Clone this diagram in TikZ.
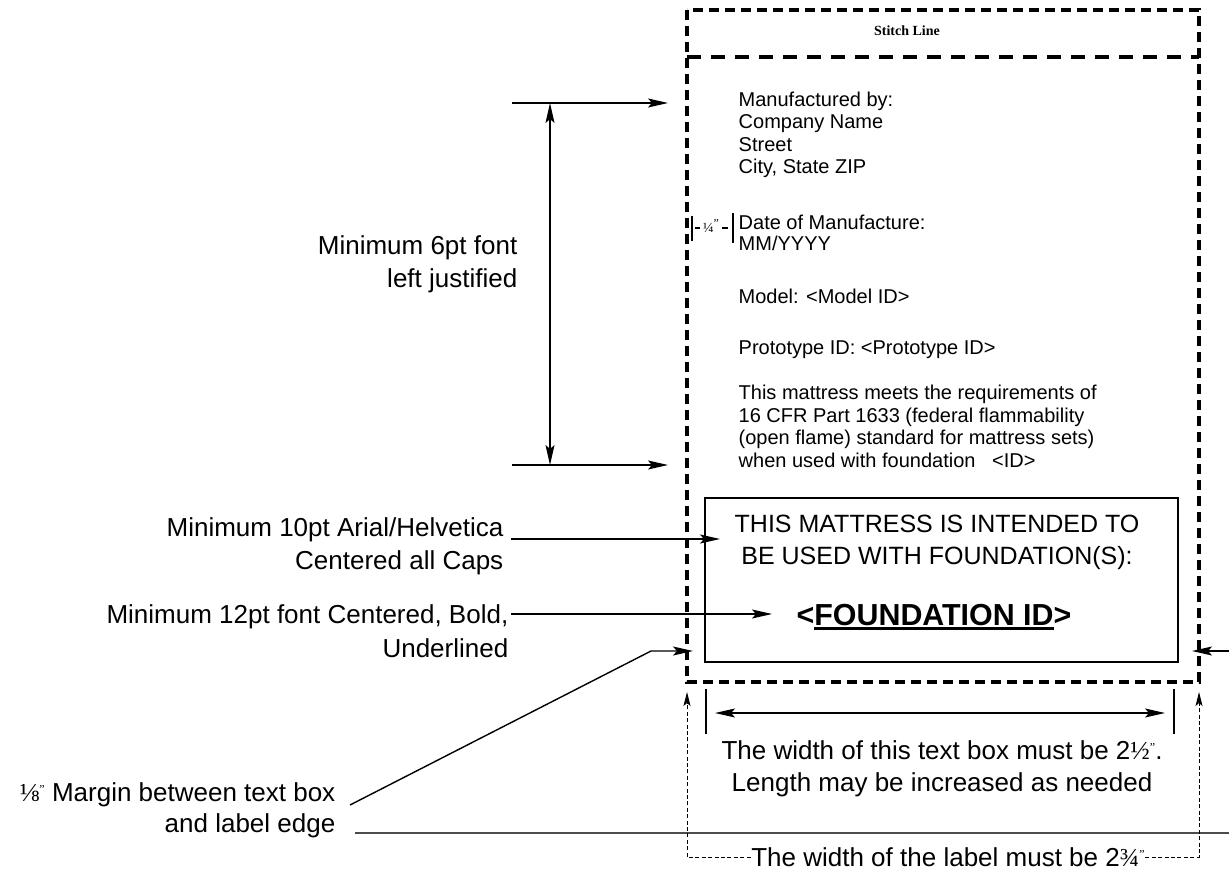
\documentclass[tikz,border=0pt]{standalone}
\usepackage{fontspec}
\setmainfont{Liberation Sans}
\newfontfamily\fracfont{Liberation Serif}
\usetikzlibrary{arrows.meta}
\newcommand{\inch}{{\fracfont\raisebox{0.3em}{\fontsize{6}{6}\selectfont ”}}}
\newcommand{\thickul}[1]{\setbox0=\hbox{#1}\rlap{\rule[-2.6pt]{\wd0}{1.4pt}}\box0}

\tikzset{
  labeledge/.style={line width=2pt,dash pattern=on 5pt off 3pt},
  stitchline/.style={line width=2pt,dash pattern=on 7pt off 5pt},
  pointer/.style={line width=0.7pt,-{Stealth[length=10pt,width=4.5pt,inset=2pt]}},
  guide/.style={line width=0.5pt,dash pattern=on 2pt off 1.2pt,-{Stealth[length=7pt,width=3.5pt,inset=1.5pt]}},
  note/.style={inner sep=0pt,font=\fontsize{13}{16.5}\selectfont,align=right,anchor=base east},
  lbl/.style={inner sep=0pt,font=\fontsize{10}{11.25}\selectfont,align=left,anchor=base west},
}

\begin{document}
\begin{tikzpicture}[x=0.5pt,y=-0.5pt,line width=0.7pt]
\useasboundingbox (0,0) rectangle (1229,871);
% the label and its stitch line
\draw[labeledge] (687,10) rectangle (1199,682);
\draw[stitchline] (687,57) -- (1199,57);
\node[inner sep=0pt,font=\fracfont\bfseries\fontsize{7}{8}\selectfont] (stitch) at (907,31) {Stitch Line};

% text on the label (base = last line)
\node[lbl] (maker) at (738,174) {Manufactured by:\\Company Name\\Street\\City, State ZIP};
\node[lbl,font=\fontsize{10}{10.5}\selectfont] (date) at (738,251) {Date of Manufacture:\\MM/YYYY};
\node[lbl] (model) at (738,303) {Model: <Model ID>};
\node[lbl] (proto) at (738,354) {Prototype ID: <Prototype ID>};
\node[lbl] (meets) at (738,467) {This mattress meets the requirements of\\16 CFR Part 1633 (federal flammability\\(open flame) standard for mattress sets)\\when used with foundation \ \ <ID>};

% the 1/4 inch indent
\draw (692,216) -- (692,241);
\draw (733,213) -- (733,243);
\draw (695,228) -- (700,228);
\draw (722,228) -- (728,228);
\node[inner sep=0pt,font=\fracfont\fontsize{7}{8}\selectfont] (quarter) at (711,226) {¼\inch};

% text box
\node[draw,line width=1pt,minimum width=236.5pt,minimum height=82pt] (tbox) at (941.5,580) {};
\node[inner sep=0pt,font=\fontsize{12.5}{16}\selectfont,align=center,anchor=base] (intend) at (937,564)
  {THIS MATTRESS IS INTENDED TO\\BE USED WITH FOUNDATION(S):};
\node[inner sep=0pt,font=\bfseries\fontsize{15.2}{18}\selectfont,anchor=base] (fid) at (934,625) {<\thickul{FOUNDATION ID}>};

% notes on the left
\node[note] (n6) at (518,287) {Minimum 6pt font\\left justified};
\node[note] (n10) at (504,569) {Minimum 10pt Arial/Helvetica\\Centered all Caps};
\node[note,font=\fontsize{13}{17}\selectfont] (n12) at (509,657) {Minimum 12pt font Centered, Bold,\\Underlined};
\node[note,font=\fontsize{13}{15.5}\selectfont] (nmargin) at (336,832) {{\fracfont ⅛\inch} Margin between text box\\and label edge};

\coordinate (top0) at (512,103); \coordinate (top1) at (668,103);
\coordinate (bot0) at (512,465); \coordinate (bot1) at (668,465);
\draw[pointer] (top0) -- (top1);
\draw[pointer] (bot0) -- (bot1);
\coordinate (vtop) at (550,103); \coordinate (vbot) at (550,465);
\draw[pointer,{Stealth[length=10pt,width=4.5pt,inset=2pt]}-{Stealth[length=10pt,width=4.5pt,inset=2pt]}] (vtop) -- (vbot);

\coordinate (c10) at (511,539); \coordinate (t10) at (720,539);
\draw[pointer] (c10) -- (t10);
\coordinate (c12) at (511,614); \coordinate (t12) at (772,614);
\draw[pointer] (c12) -- (t12);

% margins
\coordinate (m0) at (350,805); \coordinate (m1) at (651,651); \coordinate (m2) at (693,651);
\draw[pointer] (m0) -- (m1) -- (m2);
\coordinate (r0) at (1229,651); \coordinate (r1) at (1192,651);
\draw[pointer] (r0) -- (r1);
\coordinate (e0) at (355,833); \coordinate (e1) at (1229,833);
\draw[black!70,line width=0.8pt] (e0) -- (e1);

% width of the text box
\foreach \x in {706,1174} {\draw (\x,689) -- (\x,734);}
\coordinate (w0) at (715,713); \coordinate (w1) at (1165,713);
\draw[pointer,{Stealth[length=10pt,width=4.5pt,inset=2pt]}-{Stealth[length=10pt,width=4.5pt,inset=2pt]}] (w0) -- (w1);
\node[inner sep=0pt,font=\fontsize{13}{16}\selectfont,align=center,anchor=base] (boxw) at (942,791)
  {The width of this text box must be 2{\fracfont ½}\inch.\\Length may be increased as needed};

% width of the label
\node[inner sep=0pt,font=\fontsize{13}{16}\selectfont,anchor=base] (labw) at (948,866) {The width of the label must be 2{\fracfont ¾}\inch};
\coordinate (g0) at (687,857); \coordinate (g1) at (687,692);
\coordinate (g2) at (1199,857); \coordinate (g3) at (1199,692);
\draw[guide] (labw.west |- g0) -- (g0) -- (g1);
\draw[guide] (labw.east |- g2) -- (g2) -- (g3);
\end{tikzpicture}
\end{document}
